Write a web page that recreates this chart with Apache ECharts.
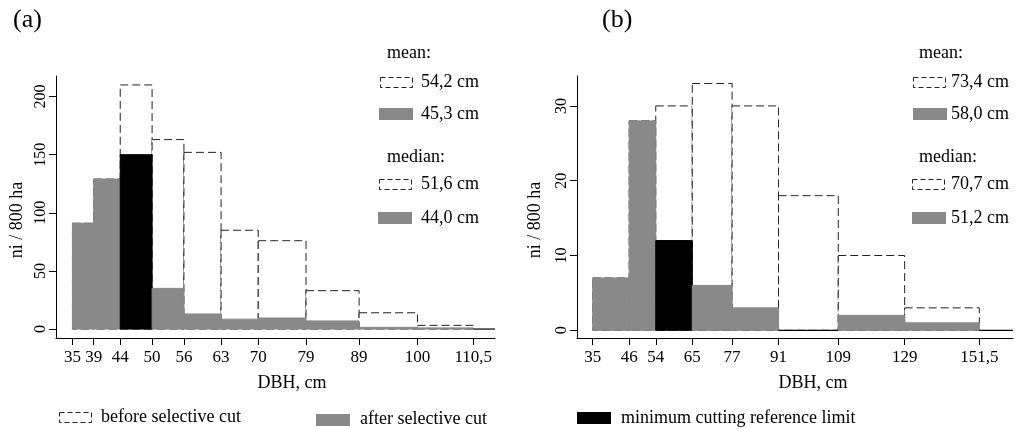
<!DOCTYPE html>
<html>
<head>
<meta charset="utf-8">
<script src="https://cdn.jsdelivr.net/npm/echarts@6/dist/echarts.min.js"></script>
<style>
html,body{margin:0;padding:0;background:#fff;}
#c{width:1018px;height:429px;}
</style>
</head>
<body>
<div id="c"></div>
<script>
// ---- data (panel a) ----
var edgesA = [35, 39, 44, 50, 56, 63, 70, 79, 89, 100, 110.5];
var beforeA = [91, 129, 210, 163, 152, 85, 76, 33, 14, 3.2, 0];
var afterA  = [91, 129, 150, 35, 13, 8.5, 9.5, 7, 1.5, 1, 0];
var cutIndexA = 2;
var yTicksA = [0, 50, 100, 150, 200];
// ---- data (panel b) ----
var edgesB = [35, 46, 54, 65, 77, 91, 109, 129, 151.5];
var beforeB = [7, 28, 30, 33, 30, 18, 10, 3, 0];
var afterB  = [7, 28, 12, 6, 3, 0, 2, 1, 0];
var cutIndexB = 2;
var yTicksB = [0, 10, 20, 30];
// ---- legend texts ----
var meanA = ['54,2 cm', '45,3 cm'];
var medianA = ['51,6 cm', '44,0 cm'];
var meanB = ['73,4 cm', '58,0 cm'];
var medianB = ['70,7 cm', '51,2 cm'];

var FONT = 'Liberation Serif';
var GRAY = '#898989';
var DASH = [8, 4];

var xRangeA = [31.9, 114.6], yRangeA = [-7.7, 217.7];
var xRangeB = [30.27, 161.65], yRangeB = [-1.03, 34.0];

function bins(edges, vals, xmax) {
  var out = [];
  for (var i = 0; i < vals.length; i++) {
    var x1 = (i + 1 < edges.length) ? edges[i + 1] : xmax;
    out.push([edges[i], x1, vals[i], i]);
  }
  return out;
}

function beforeRender(params, api) {
  var v = api.value(2);
  if (v <= 0) return null;
  var p0 = api.coord([api.value(0), v]);
  var p1 = api.coord([api.value(1), 0]);
  return {
    type: 'rect',
    shape: {x: p0[0], y: p0[1], width: p1[0] - p0[0], height: p1[1] - p0[1]},
    style: {fill: '#fff', stroke: '#222', lineWidth: 1, lineDash: DASH}
  };
}
function makeAfterRender(cutIndex) {
  return function (params, api) {
    var v = api.value(2);
    var p0 = api.coord([api.value(0), v]);
    var p1 = api.coord([api.value(1), 0]);
    if (v <= 0) {
      return {type: 'line', shape: {x1: p0[0], y1: p1[1], x2: p1[0], y2: p1[1]},
        style: {stroke: '#000', lineWidth: 1.2}};
    }
    var c = api.value(3) === cutIndex ? '#000' : GRAY;
    return {
      type: 'rect',
      shape: {x: p0[0], y: p0[1], width: p1[0] - p0[0], height: p1[1] - p0[1]},
      style: {fill: c, stroke: c, lineWidth: 1}
    };
  };
}

function fmt(v) { return String(v).replace('.', ','); }

function xAxis(gi, range, ticks) {
  return {
    type: 'value', gridIndex: gi, min: range[0], max: range[1],
    axisLine: {show: true, onZero: false, lineStyle: {color: '#000', width: 1}},
    axisTick: {show: true, length: 7, customValues: ticks, lineStyle: {color: '#000'}},
    axisLabel: {customValues: ticks, formatter: fmt, margin: 11, color: '#000',
      fontFamily: FONT, fontSize: 17, showMinLabel: true, showMaxLabel: true},
    splitLine: {show: false}
  };
}
function yAxis(gi, range, ticks) {
  return {
    type: 'value', gridIndex: gi, min: range[0], max: range[1],
    axisLine: {show: true, onZero: false, lineStyle: {color: '#000', width: 1}},
    axisTick: {show: true, length: 7, customValues: ticks, lineStyle: {color: '#000'}},
    axisLabel: {customValues: ticks, rotate: 90, margin: 7, color: '#000',
      fontFamily: FONT, fontSize: 16},
    splitLine: {show: false}
  };
}

function txt(x, y, s, size, align, rot) {
  var o = {type: 'text', x: x, y: y, style: {text: s, fill: '#000', font: size + 'px "' + FONT + '"',
    textAlign: align || 'left', textVerticalAlign: 'middle'}};
  if (rot) { o.rotation = rot; }
  return o;
}
function dashBox(x, y) {
  return {type: 'rect', shape: {x: x + 0.5, y: y - 4.5, width: 32, height: 10},
    style: {fill: '#fff', stroke: '#222', lineWidth: 1, lineDash: [5, 3]}};
}
function fillBox(x, y, c) {
  return {type: 'rect', shape: {x: x, y: y - 6, width: 34, height: 12}, style: {fill: c}};
}

var graphics = [
  txt(13, 20, '(a)', 26), txt(602, 20, '(b)', 26),
  txt(292, 383, 'DBH, cm', 18, 'center'), txt(813, 383, 'DBH, cm', 18, 'center'),
  {type: 'text', x: 17, y: 220, rotation: Math.PI / 2,
    style: {text: 'ni / 800 ha', fill: '#000', font: '18px "' + FONT + '"', textAlign: 'center', textVerticalAlign: 'middle'}},
  {type: 'text', x: 535, y: 220, rotation: Math.PI / 2,
    style: {text: 'ni / 800 ha', fill: '#000', font: '18px "' + FONT + '"', textAlign: 'center', textVerticalAlign: 'middle'}},
  // legend a
  txt(387, 53, 'mean:', 18), dashBox(380, 82), txt(421, 82, meanA[0], 18),
  fillBox(379, 114, GRAY), txt(421, 114, meanA[1], 18),
  txt(387, 157, 'median:', 18), dashBox(379, 184), txt(421, 184, medianA[0], 18),
  fillBox(378, 218, GRAY), txt(421, 218, medianA[1], 18),
  // legend b
  txt(919, 53, 'mean:', 18), dashBox(913, 82), txt(951, 82, meanB[0], 18),
  fillBox(913, 114, GRAY), txt(951, 114, meanB[1], 18),
  txt(919, 157, 'median:', 18), dashBox(912, 184), txt(951, 184, medianB[0], 18),
  fillBox(912, 218, GRAY), txt(951, 218, medianB[1], 18),
  // bottom legend
  dashBox(59, 417), txt(101, 417, 'before selective cut', 18),
  fillBox(316, 420, GRAY), txt(360, 419, 'after selective cut', 18),
  fillBox(577, 418, '#000'), txt(621, 418, 'minimum cutting reference limit', 18)
];

var chart = echarts.init(document.getElementById('c'), null, {renderer: 'canvas'});
chart.setOption({
  backgroundColor: '#fff',
  animation: false,
  grid: [
    {left: 56, top: 76, width: 439, height: 262},
    {left: 577, top: 76, width: 436, height: 262}
  ],
  xAxis: [xAxis(0, xRangeA, edgesA), xAxis(1, xRangeB, edgesB)],
  yAxis: [yAxis(0, yRangeA, yTicksA), yAxis(1, yRangeB, yTicksB)],
  series: [
    {type: 'custom', xAxisIndex: 0, yAxisIndex: 0, renderItem: beforeRender,
      data: bins(edgesA, beforeA, xRangeA[1]), encode: {x: [0, 1], y: 2}, silent: true},
    {type: 'custom', xAxisIndex: 0, yAxisIndex: 0, renderItem: makeAfterRender(cutIndexA),
      data: bins(edgesA, afterA, xRangeA[1]), encode: {x: [0, 1], y: 2}, silent: true},
    {type: 'custom', xAxisIndex: 1, yAxisIndex: 1, renderItem: beforeRender,
      data: bins(edgesB, beforeB, xRangeB[1]), encode: {x: [0, 1], y: 2}, silent: true},
    {type: 'custom', xAxisIndex: 1, yAxisIndex: 1, renderItem: makeAfterRender(cutIndexB),
      data: bins(edgesB, afterB, xRangeB[1]), encode: {x: [0, 1], y: 2}, silent: true}
  ],
  graphic: graphics
});
</script>
</body>
</html>
